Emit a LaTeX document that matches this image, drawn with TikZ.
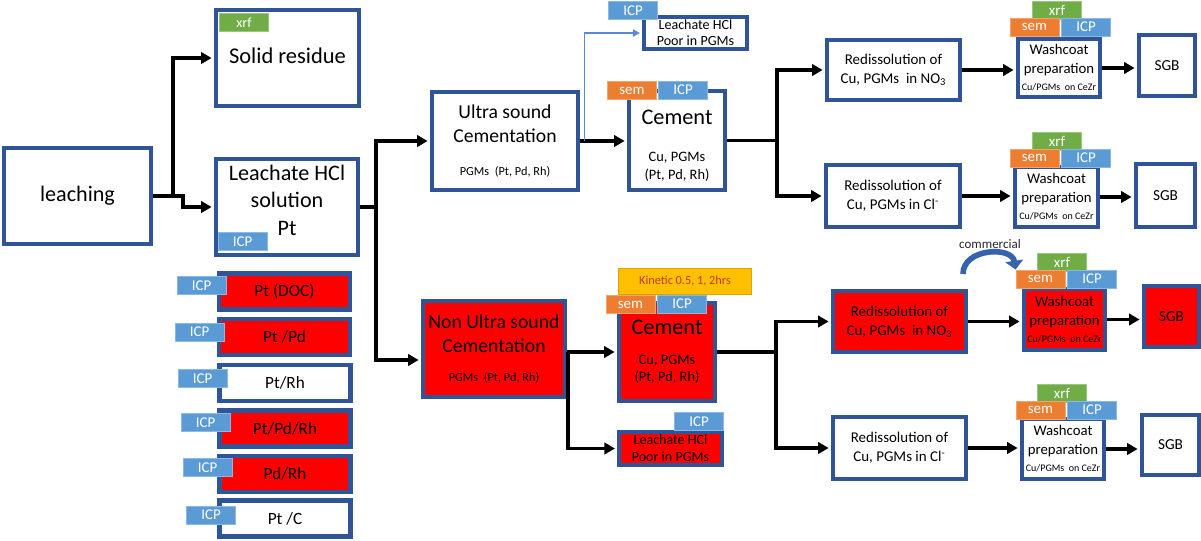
\documentclass[tikz,border=0pt]{standalone}
\usepackage{fontspec}
\setmainfont{Carlito}
\usepackage{tikz}
\usetikzlibrary{arrows.meta}

\definecolor{boxblue}{HTML}{2F5597}
\definecolor{icpblue}{HTML}{5B9BD5}
\definecolor{semorange}{HTML}{ED7D31}
\definecolor{xrfgreen}{HTML}{70AD47}
\definecolor{kinyellow}{HTML}{FFC000}
\definecolor{kintext}{HTML}{C03A0C}
\definecolor{linkblue}{HTML}{5A88D6}
\definecolor{curveblue}{HTML}{3563AE}

\newcommand{\fsz}[2]{\fontsize{#1pt}{#2pt}\selectfont}

\begin{document}
\begin{tikzpicture}[x=0.02cm, y=-0.02cm,
			box/.style={draw=boxblue, line width=2.6pt, fill=white, align=center, inner sep=1pt},
			listbox/.style={box, minimum width=2.62cm, minimum height=0.72cm, font=\fsz{9.8}{12}},
			washbox/.style={box, font=\fsz{8.4}{10.8}},
			sgbbox/.style={box, font=\fsz{8.7}{10}},
			redisbox/.style={box, font=\fsz{8.5}{11}},
			tag/.style={draw=#1!70!white, line width=0.5pt, fill=#1, text=white, inner sep=0pt, minimum width=0.98cm, minimum height=0.36cm, font=\fsz{8.5}{10}},
			icp/.style={tag=icpblue},
			sem/.style={tag=semorange},
			xrf/.style={tag=xrfgreen},
			kinetic/.style={draw=kinyellow!85!black, line width=0.5pt, fill=kinyellow, text=kintext, inner sep=0pt, minimum width=2.66cm, minimum height=0.52cm, font=\fsz{7}{8}},
			line/.style={line width=1.8pt},
			flow/.style={line, -{Triangle[length=6pt,width=6.5pt]}, shorten >=1.2pt},
			link/.style={draw=linkblue, line width=0.8pt, -{Triangle[length=4pt,width=4pt]}, shorten >=1.2pt},
			curve/.style={draw=curveblue, line width=3.2pt, -{Triangle[length=5pt,width=10pt]}},
		]
		\useasboundingbox (0,0) rectangle (1201,541);

		% leaching and first split
		\node[box, minimum width=2.94cm, minimum height=1.92cm, font=\fsz{12.6}{15}] (leaching) at (77.5,196) {leaching};
		\node[box, minimum width=2.86cm, minimum height=1.92cm, font=\fsz{12.8}{15}, text depth=3pt] (solid) at (287.5,58) {Solid residue};
		\node[box, minimum width=2.84cm, minimum height=1.92cm, font=\fsz{12.6}{15.6}, text depth=8pt] (leachate) at (287,207) {Leachate HCl\\solution\\Pt};

		% catalysts
		\node[listbox, fill=red] (ptdoc) at (284.5,291.5) {Pt (DOC)};
		\node[listbox, fill=red] (ptpd) at (284.5,337) {Pt /Pd};
		\node[listbox] (ptrh) at (285,383) {Pt/Rh};
		\node[listbox, fill=red] (ptpdrh) at (285,428.5) {Pt/Pd/Rh};
		\node[listbox, fill=red] (pdrh) at (285,474) {Pd/Rh};
		\node[listbox] (ptc) at (285,518.5) {Pt /C};

		% ultra sound branch
		\node[box, minimum width=2.92cm, minimum height=1.96cm, font=\fsz{11.2}{13.6}] (ultra) at (505,141) {Ultra sound\\Cementation\\[5.4pt]\fsz{7}{13.6}PGMs~~(Pt, Pd, Rh)};
		\node[box, minimum width=1.92cm, minimum height=1.98cm, font=\fsz{12.7}{9.7}, text height=45pt] (cement) at (677,140.5) {Cement\\[11.7pt]\fsz{8.2}{9.7}Cu, PGMs\\\fsz{8.2}{9.7}(Pt, Pd, Rh)};
		\node[box, line width=2.2pt, minimum width=2.06cm, minimum height=0.64cm, font=\fsz{8}{9.1}] (poortop) at (695.5,33) {Leachate HCl\\Poor in PGMs};
		\node[redisbox, minimum width=2.66cm, minimum height=1.2cm] (rno3) at (893.5,70) {Redissolution of\\Cu, PGMs~~in NO\textsubscript{3}};
		\node[redisbox, minimum width=2.68cm, minimum height=1.24cm] (rcl) at (893,196) {Redissolution of\\Cu, PGMs in Cl\textsuperscript{-}};
		\node[washbox, minimum width=1.64cm, minimum height=1.16cm] (wc1) at (1059,68) {Washcoat\\preparation\\[-1.2pt]\fsz{5.7}{10.8}Cu/PGMs~~on CeZr};
		\node[washbox, minimum width=1.66cm, minimum height=1.2cm] (wc2) at (1056.5,197) {Washcoat\\preparation\\[-1.2pt]\fsz{5.7}{10.8}Cu/PGMs~~on CeZr};
		\node[sgbbox, minimum width=1.12cm, minimum height=1.22cm] (sgb1) at (1167,65.5) {SGB};
		\node[sgbbox, minimum width=1.18cm, minimum height=1.26cm] (sgb2) at (1165.5,195.5) {SGB};

		% non ultra sound branch
		\node[box, fill=red, minimum width=2.84cm, minimum height=1.92cm, font=\fsz{11.2}{13.6}] (nonultra) at (494,349) {Non Ultra sound\\Cementation\\[2.6pt]\fsz{7}{13.6}PGMs~~(Pt, Pd, Rh)};
		\node[box, fill=red, minimum width=1.92cm, minimum height=1.96cm, font=\fsz{12.7}{9.7}] (cement2) at (667,352) {Cement\\[7.1pt]\fsz{8.2}{9.7}Cu, PGMs\\\fsz{8.2}{9.7}(Pt, Pd, Rh)};
		\node[box, fill=red, line width=2.2pt, minimum width=2.06cm, minimum height=0.66cm, font=\fsz{8}{9.6}] (poorbot) at (670.5,448.5) {Leachate HCl\\Poor in PGMs};
		\node[redisbox, fill=red, minimum width=2.66cm, minimum height=1.22cm] (rno3b) at (899.5,321.5) {Redissolution of\\Cu, PGMs~~in NO\textsubscript{3}};
		\node[redisbox, minimum width=2.66cm, minimum height=1.24cm] (rclb) at (899.5,448) {Redissolution of\\Cu, PGMs in Cl\textsuperscript{-}};
		\node[washbox, fill=red, minimum width=1.62cm, minimum height=1.22cm] (wc3) at (1064.5,319.5) {Washcoat\\preparation\\[-1.2pt]\fsz{5.7}{10.8}Cu/PGMs~~on CeZr};
		\node[washbox, minimum width=1.64cm, minimum height=1.2cm] (wc4) at (1063,449) {Washcoat\\preparation\\[-1.2pt]\fsz{5.7}{10.8}Cu/PGMs~~on CeZr};
		\node[sgbbox, fill=red, minimum width=1.1cm, minimum height=1.22cm] (sgb3) at (1171.5,316.5) {SGB};
		\node[sgbbox, minimum width=1.14cm, minimum height=1.2cm] (sgb4) at (1170.5,445) {SGB};

		% analysis tags
		\node[xrf, font=\fsz{8}{9}] (xrfsolid) at (244,22.5) {xrf};
		\node[icp] (icpleach) at (242.5,241.5) {ICP};
		\node[icp] (icpdoc) at (201.5,285.5) {ICP};
		\node[icp] (icpptpd) at (199.5,332) {ICP};
		\node[icp] (icpptrh) at (202.5,378.5) {ICP};
		\node[icp] (icpptpdrh) at (205.5,422.5) {ICP};
		\node[icp] (icppdrh) at (207.5,467.5) {ICP};
		\node[icp] (icpptc) at (211,515) {ICP};
		\node[icp] (icppoortop) at (633,10.5) {ICP};
		\node[sem] (sem1) at (632,90.5) {sem};
		\node[icp] (icp1) at (683,90) {ICP};
		\node[xrf] (xrfwc1) at (1057,10.5) {xrf};
		\node[sem] (semwc1) at (1034.5,27) {sem};
		\node[icp] (icpwc1) at (1086,27) {ICP};
		\node[xrf] (xrfwc2) at (1057,141.5) {xrf};
		\node[sem] (semwc2) at (1034.5,158) {sem};
		\node[icp] (icpwc2) at (1086,158) {ICP};
		\node[kinetic] (kinetic) at (685,281.5) {Kinetic 0.5, 1, 2hrs};
		\node[sem] (sem2) at (630.5,304.5) {sem};
		\node[icp] (icp2) at (682,304) {ICP};
		\node[icp] (icppoorbot) at (699,421.5) {ICP};
		\node[xrf] (xrfwc3) at (1062,262.5) {xrf};
		\node[sem] (semwc3) at (1040.5,279) {sem};
		\node[icp] (icpwc3) at (1092,279) {ICP};
		\node[xrf] (xrfwc4) at (1062,393.5) {xrf};
		\node[sem] (semwc4) at (1040.5,410) {sem};
		\node[icp] (icpwc4) at (1092,410) {ICP};

		% connectors
		\coordinate (split0) at (173,196);
		\coordinate (split1) at (376,207);
		\coordinate (split2) at (777,140.5);
		\coordinate (split3) at (568,352);
		\coordinate (split4) at (776,352);

		\draw[flow] (leaching.east) -- (split0) |- (solid.west);
		\draw[flow] (split0) -- ++(10,0) |- (leachate.west);

		\draw[line] (leachate.east) -- (split1);
		\draw[flow] (split1) |- (ultra.west);
		\draw[flow] (split1) |- ([yshift=-0.22cm]nonultra.west);

		\draw[flow] (ultra.east) -- (ultra.east -| cement.west);
		\draw[link] (ultra.east) ++(4,0) |- (poortop.west);
		\draw[line] (cement.east) -- (split2);
		\draw[flow] (split2) |- (rno3.west);
		\draw[flow] (split2) |- (rcl.west);
		\draw[flow] (rno3.east) -- (rno3.east -| wc1.west);
		\draw[flow] (wc1.east) -- (wc1.east -| sgb1.west);
		\draw[flow] (rcl.east) -- (rcl.east -| wc2.west);
		\draw[flow] (wc2.east) -- (wc2.east -| sgb2.west);

		\draw[flow] (split3 -| nonultra.east) -- (cement2.west);
		\draw[flow] (split3) |- (poorbot.west);
		\draw[line] (cement2.east) -- (split4);
		\draw[flow] (split4) |- (rno3b.west);
		\draw[flow] (split4) |- (rclb.west);
		\draw[flow] (rno3b.east) -- (rno3b.east -| wc3.west);
		\draw[flow] (wc3.east) -- (wc3.east -| sgb3.west);
		\draw[flow] (rclb.east) -- (rclb.east -| wc4.west);
		\draw[flow] (wc4.east) -- (wc4.east -| sgb4.west);

		% commercial washcoat
		\node[font=\fsz{7.4}{9}, text=black!85] (commercial) at (990,244) {commercial};
		\coordinate (cstart) at (963,274);
		\draw[curve] (cstart) .. controls (963,248) and (1012,246) .. (semwc3.north west);

		\end{tikzpicture}
\end{document}
